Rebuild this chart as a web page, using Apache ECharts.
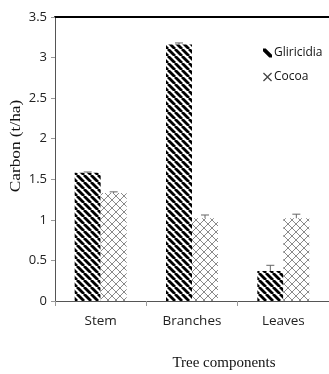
<!DOCTYPE html>
<html><head><meta charset="utf-8">
<script src="https://cdn.jsdelivr.net/npm/echarts@6/dist/echarts.min.js"></script>
<style>html,body{margin:0;padding:0;background:#fff}#c{width:329px;height:374px}</style>
</head><body><div id="c"></div>
<script>
const categories = ['Stem', 'Branches', 'Leaves'];
const gliricidia = [1.58, 3.16, 0.37];
const cocoa = [1.33, 1.02, 1.02];
const gliricidiaErr = [0.01, 0.02, 0.07];
const cocoaErr = [0.015, 0.04, 0.05];
const yTicks = ['0', '0.5', '1', '1.5', '2', '2.5', '3', '3.5'];

function stripePattern() {
  const c = document.createElement('canvas');
  c.width = 7; c.height = 7;
  const g = c.getContext('2d');
  g.fillStyle = '#fff'; g.fillRect(0, 0, 7, 7);
  g.strokeStyle = '#000'; g.lineWidth = 2.8;
  for (let k = -7; k <= 14; k += 7) {
    g.beginPath(); g.moveTo(k, 0); g.lineTo(k + 7, 7); g.stroke();
  }
  return c;
}
function latticePattern() {
  const c = document.createElement('canvas');
  c.width = 8; c.height = 8;
  const g = c.getContext('2d');
  g.fillStyle = '#fff'; g.fillRect(0, 0, 8, 8);
  g.strokeStyle = '#8a8a8a'; g.lineWidth = 1;
  for (let k = -8; k <= 16; k += 8) {
    g.beginPath(); g.moveTo(k, 0); g.lineTo(k + 8, 8); g.stroke();
    g.beginPath(); g.moveTo(k + 8, 0); g.lineTo(k, 8); g.stroke();
  }
  return c;
}

const chart = echarts.init(document.getElementById('c'), null, {renderer: 'canvas'});
const barW = 26;

function errSeries(name, vals, errs, side) {
  return {
    type: 'custom', name: name + ' err', silent: true, z: 5,
    data: vals.map((v, i) => [i, v, errs[i]]),
    renderItem: function (params, api) {
      const base = api.coord([api.value(0), api.value(1)]);
      const top = api.coord([api.value(0), api.value(1) + api.value(2)]);
      const x = base[0] + side * barW / 2;
      const style = {stroke: '#666', lineWidth: 1};
      return {type: 'group', children: [
        {type: 'line', shape: {x1: x, y1: base[1], x2: x, y2: top[1]}, style: style},
        {type: 'line', shape: {x1: x - 4, y1: top[1], x2: x + 4, y2: top[1]}, style: style}
      ]};
    }
  };
}

chart.setOption({
  animation: false,
  title: {
    text: 'Tree components', left: 219, top: 351, textAlign: 'center',
    textStyle: {fontFamily: 'Liberation Serif', fontSize: 15, fontWeight: 'normal', color: '#111'}
  },
  graphic: [{
    type: 'text', x: 16, y: 146, rotation: Math.PI / 2, scaleX: 1.15,
    style: {text: 'Carbon (t/ha)', fontFamily: 'Liberation Serif', fontSize: 15, fill: '#111',
      align: 'center', verticalAlign: 'middle'}
  }],
  legend: {
    orient: 'vertical', left: 258, top: 42, itemGap: 12, itemWidth: 9, itemHeight: 9,
    textStyle: {fontFamily: 'Open Sans', fontSize: 12, color: '#111', padding: [0, 0, 0, -3]},
    data: [
      {name: 'Gliricidia', icon: 'path://M0,0 L3,0 L10,7 L10,3 L10,10 L3,10 L7,10 L0,3 Z',
       itemStyle: {color: '#000'}},
      {name: 'Cocoa', icon: 'path://M0,1 L1,0 L5,4 L9,0 L10,1 L6,5 L10,9 L9,10 L5,6 L1,10 L0,9 L4,5 Z',
       itemStyle: {color: '#444'}}
    ]
  },
  grid: {left: 55, right: 0, top: 17, bottom: 73},
  xAxis: [{
    type: 'category', data: categories,
    axisLine: {lineStyle: {color: '#555', width: 1}},
    axisTick: {show: true, length: 5, lineStyle: {color: '#999'}},
    axisLabel: {fontFamily: 'Open Sans', fontSize: 13.5, color: '#222', margin: 13}
  }, {
    type: 'category', data: categories, position: 'top',
    axisLine: {lineStyle: {color: '#000', width: 2}},
    axisTick: {show: false}, axisLabel: {show: false}
  }],
  yAxis: {
    type: 'value', min: 0, max: 3.5, interval: 0.5,
    axisLine: {show: true, lineStyle: {color: '#555'}},
    axisTick: {show: true, length: 4, lineStyle: {color: '#999'}},
    splitLine: {show: false},
    axisLabel: {fontFamily: 'Open Sans', fontSize: 13, color: '#222', margin: 8,
      formatter: function (v) { return yTicks[Math.round(v / 0.5)]; }}
  },
  series: [
    {name: 'Gliricidia', type: 'bar', data: gliricidia, barWidth: barW, barGap: '0%',
     itemStyle: {color: {image: stripePattern(), repeat: 'repeat'}}},
    {name: 'Cocoa', type: 'bar', data: cocoa, barWidth: barW, barGap: '0%',
     itemStyle: {color: {image: latticePattern(), repeat: 'repeat'}}},
    errSeries('Gliricidia', gliricidia, gliricidiaErr, -1),
    errSeries('Cocoa', cocoa, cocoaErr, 1)
  ]
});
</script></body></html>
